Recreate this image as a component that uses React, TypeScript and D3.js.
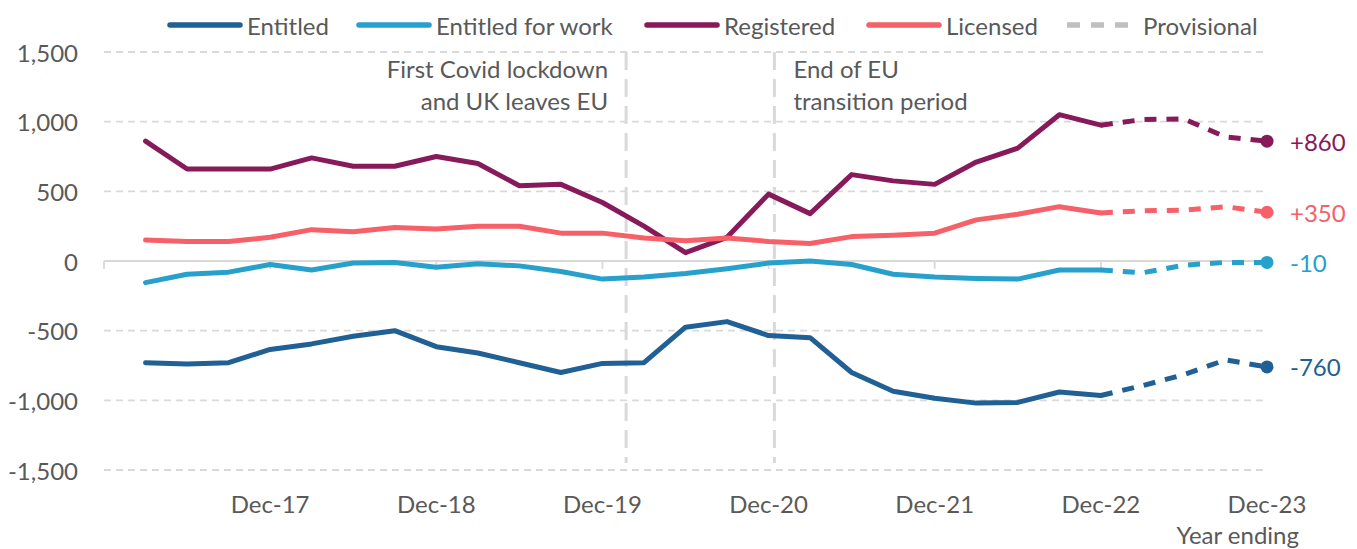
import React from "react";
import * as d3 from "d3";

// ---------- data ----------
const periods = [
  "Mar-17", "Jun-17", "Sep-17", "Dec-17",
  "Mar-18", "Jun-18", "Sep-18", "Dec-18",
  "Mar-19", "Jun-19", "Sep-19", "Dec-19",
  "Mar-20", "Jun-20", "Sep-20", "Dec-20",
  "Mar-21", "Jun-21", "Sep-21", "Dec-21",
  "Mar-22", "Jun-22", "Sep-22", "Dec-22",
  "Mar-23", "Jun-23", "Sep-23", "Dec-23",
];

const entitled = [
  -730, -740, -730, -635, -595, -540, -500, -615, -660, -730,
  -800, -735, -730, -475, -435, -535, -550, -800, -935, -985,
  -1020, -1015, -940, -965, -895, -815, -710, -760,
];
const entitledForWork = [
  -155, -95, -80, -25, -65, -15, -10, -45, -20, -35,
  -75, -130, -115, -90, -55, -15, 0, -25, -95, -115,
  -125, -130, -65, -65, -85, -30, -10, -10,
];
const registered = [
  860, 660, 660, 660, 740, 680, 680, 750, 700, 540,
  550, 420, 250, 60, 170, 480, 340, 620, 575, 550,
  710, 810, 1050, 975, 1015, 1020, 890, 860,
];
const licensed = [
  150, 140, 140, 170, 225, 210, 240, 230, 250, 250,
  200, 200, 165, 145, 165, 140, 125, 175, 185, 200,
  295, 335, 390, 345, 360, 365, 390, 350,
];

const seriesNames = ["Entitled", "Entitled for work", "Registered", "Licensed"];
const seriesValues = [entitled, entitledForWork, registered, licensed];
const seriesColors = ["#206095", "#27A0CC", "#871A5B", "#F66068"];
const provisionalFrom = "Dec-22"; // solid up to here, dashed afterwards
const provisionalLabel = "Provisional";

const yTicks = [-1500, -1000, -500, 0, 500, 1000, 1500];
const xAxisTitle = "Year ending";

// event positions expressed in quarter index units (Dec-16 = 0)
const eventNames = [
  ["First Covid lockdown", "and UK leaves EU"],
  ["End of EU", "transition period"],
];
const eventAt = [12.57, 16.14];

// ---------- layout ----------
const W = 1357;
const H = 549;
const FONT = "Lato, 'Open Sans', sans-serif";
const FS = 24;
const TEXT = "#595959";
const GRID = "#d9d9d9";
const legendX = [170, 359, 647, 869, 1067];
const LEGEND_LINE = 70;

const fmt = (v: number) => (v < 0 ? "-" + d3.format(",")(-v) : d3.format(",")(v));
const fmtSigned = (v: number) => (v > 0 ? "+" + d3.format(",")(v) : v < 0 ? "-" + d3.format(",")(-v) : "0");

export default function App() {
  const x = d3.scaleLinear().domain([0, periods.length]).range([104, 1267]);
  const y = d3.scaleLinear().domain([-1500, 1500]).range([470, 52]);
  const provIdx = periods.indexOf(provisionalFrom);

  const line = d3
    .line<[number, number]>()
    .x((d) => x(d[0]))
    .y((d) => y(d[1]));

  const tickIdx = d3.range(0, periods.length + 1, 4);

  return (
    <svg
      width={W}
      height={H}
      style={{ position: "absolute", left: 0, top: 0, background: "#fff" }}
      fontFamily={FONT}
    >
      {/* gridlines */}
      {yTicks
        .filter((t) => t !== 0)
        .map((t) => (
          <line
            key={t}
            x1={x(0)}
            x2={x(periods.length)}
            y1={y(t)}
            y2={y(t)}
            stroke={GRID}
            strokeWidth={1.8}
            strokeDasharray="7 5"
          />
        ))}
      {/* zero axis */}
      <line x1={x(0)} x2={x(periods.length)} y1={y(0)} y2={y(0)} stroke={GRID} strokeWidth={1.8} />
      {tickIdx.map((i) => (
        <line key={i} x1={x(i)} x2={x(i)} y1={y(0)} y2={y(0) + 8} stroke={GRID} strokeWidth={1.8} />
      ))}
      {/* y labels */}
      {yTicks.map((t) => (
        <text
          key={t}
          x={78}
          y={y(t)}
          textAnchor="end"
          dominantBaseline="central"
          fontSize={FS}
          fill={TEXT}
        >
          {fmt(t)}
        </text>
      ))}
      {/* x labels */}
      {tickIdx
        .filter((i) => i > 0)
        .map((i) => (
          <text key={i} x={x(i)} y={513} textAnchor="middle" fontSize={FS} fill={TEXT}>
            {periods[i - 1]}
          </text>
        ))}
      <text x={x(periods.length) + 32} y={544} textAnchor="end" fontSize={FS} fill={TEXT}>
        {xAxisTitle}
      </text>

      {/* event lines */}
      {eventAt.map((a, k) => (
        <g key={k}>
          <line
            x1={x(a)}
            x2={x(a)}
            y1={y(1500)}
            y2={y(-1450)}
            stroke={GRID}
            strokeWidth={3}
            strokeDasharray="18 9"
          />
          {eventNames[k].map((s, j) => (
            <text
              key={j}
              x={k === 0 ? x(a) - 18 : x(a) + 19}
              y={78 + j * 32}
              textAnchor={k === 0 ? "end" : "start"}
              fontSize={FS}
              fill={TEXT}
            >
              {s}
            </text>
          ))}
        </g>
      ))}

      {/* series */}
      {seriesValues.map((vals, s) => {
        const pts: [number, number][] = vals.map((v, k) => [k + 1, v]);
        const solid = pts.slice(0, provIdx + 1);
        const dashed = pts.slice(provIdx);
        const last = pts[pts.length - 1];
        return (
          <g key={s}>
            <path
              d={line(solid) || ""}
              fill="none"
              stroke={seriesColors[s]}
              strokeWidth={5}
              strokeLinejoin="round"
              strokeLinecap="round"
            />
            <path
              d={line(dashed) || ""}
              fill="none"
              stroke={seriesColors[s]}
              strokeWidth={5}
              strokeDasharray="12 10"
              strokeLinejoin="round"
            />
            <circle cx={x(last[0])} cy={y(last[1])} r={6.5} fill={seriesColors[s]} />
            <text
              x={x(last[0]) + 23}
              y={y(last[1])}
              dominantBaseline="central"
              fontSize={FS}
              fill={seriesColors[s]}
            >
              {fmtSigned(last[1])}
            </text>
          </g>
        );
      })}

      {/* legend */}
      {seriesNames.map((n, s) => (
        <g key={n}>
          <line
            x1={legendX[s]}
            x2={legendX[s] + LEGEND_LINE}
            y1={25}
            y2={25}
            stroke={seriesColors[s]}
            strokeWidth={5.5}
            strokeLinecap="round"
          />
          <text x={legendX[s] + LEGEND_LINE + 7} y={25} dominantBaseline="central" fontSize={FS} fill={TEXT}>
            {n}
          </text>
        </g>
      ))}
      <line
        x1={legendX[4]}
        x2={legendX[4] + 61}
        y1={25}
        y2={25}
        stroke="#bfbfbf"
        strokeWidth={5.5}
        strokeDasharray="13 11"
      />
      <text x={legendX[4] + 76} y={25} dominantBaseline="central" fontSize={FS} fill={TEXT}>
        {provisionalLabel}
      </text>
    </svg>
  );
}
